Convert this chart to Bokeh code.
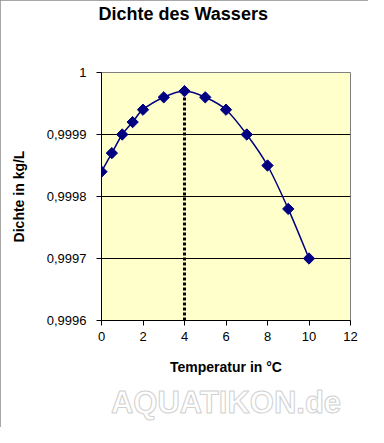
import numpy as np
from bokeh.plotting import figure
from bokeh.models import Range1d, FixedTicker, Title
from bokeh.embed import file_html
from bokeh.resources import INLINE

# Data
temperature = [0, 0.5, 1, 1.5, 2, 3, 4, 5, 6, 7, 8, 9, 10]
density = [0.99984, 0.99987, 0.99990, 0.99992, 0.99994, 0.99996, 0.99997,
           0.99996, 0.99994, 0.99990, 0.99985, 0.99978, 0.99970]
x_ticks = [0, 2, 4, 6, 8, 10, 12]
y_ticks = [0.9996, 0.9997, 0.9998, 0.9999, 1.0]
y_tick_labels = ["0,9996", "0,9997", "0,9998", "0,9999", "1"]
title_text = "Dichte des Wassers"
x_label = "Temperatur in °C"
y_label = "Dichte in kg/L"
watermark = "AQUATIKON.de"

FONT = "Liberation Sans"

p = figure(width=368, height=427, output_backend="svg", toolbar_location=None,
           x_range=Range1d(0, 12), y_range=Range1d(y_ticks[0], y_ticks[-1]),
           min_border_left=101, min_border_right=18, min_border_top=72,
           min_border_bottom=107)
p.background_fill_color = "#FFFFCC"
p.border_fill_color = "white"
p.outline_line_color = "#808080"
p.outline_line_width = 1
p.styles = {"outline": "1px solid #8a8a8a", "outline-offset": "-1px"}

# spacer between frame and title
p.add_layout(Title(text=" ", standoff=41, text_font_size="1px"), "above")

# title
p.title.text = title_text
p.title.align = "left"
p.title.vertical_align = "top"
p.title.offset = -3
p.title.standoff = 6
p.title.text_font = FONT
p.title.text_font_size = "18px"
p.title.text_font_style = "bold"
p.title.text_color = "black"

# axes
for ax in (p.xaxis[0], p.yaxis[0]):
    ax.axis_line_color = "black"
    ax.major_tick_line_color = "black"
    ax.major_tick_in = 0
    ax.major_tick_out = 5
    ax.minor_tick_line_color = None
    ax.major_label_text_font = FONT
    ax.major_label_text_font_size = "13px"
    ax.major_label_text_color = "black"
    ax.axis_label_text_font = FONT
    ax.axis_label_text_font_size = "14px"
    ax.axis_label_text_font_style = "bold"
    ax.axis_label_text_color = "black"

p.xaxis.ticker = FixedTicker(ticks=x_ticks)
p.yaxis.ticker = FixedTicker(ticks=y_ticks)
p.yaxis.major_label_overrides = {t: l for t, l in zip(y_ticks, y_tick_labels)}
p.xaxis.axis_label = x_label
p.yaxis.axis_label = y_label
p.xaxis.major_label_standoff = 6
p.yaxis.major_label_standoff = 10
p.xaxis.axis_label_standoff = 15
p.yaxis.axis_label_standoff = 17

p.xgrid.grid_line_color = None
p.ygrid.grid_line_color = "black"
p.ygrid.grid_line_width = 1

# dotted line at the density maximum
imax = int(np.argmax(density))
p.segment(x0=[temperature[imax]], y0=[y_ticks[0]], x1=[temperature[imax]],
          y1=[density[imax]], line_color="black", line_width=3, line_dash="3 2")

# smoothed line (Bezier segments through the data points)
xs = np.array(temperature, dtype=float)
ys = np.array(density, dtype=float)
n = len(xs)
x0, y0, x1, y1, cx0, cy0, cx1, cy1 = [], [], [], [], [], [], [], []
for i in range(n - 1):
    pm = max(i - 1, 0)
    pp = min(i + 2, n - 1)
    x0.append(xs[i]); y0.append(ys[i])
    x1.append(xs[i + 1]); y1.append(ys[i + 1])
    cx0.append(xs[i] + (xs[i + 1] - xs[pm]) / 6)
    cy0.append(ys[i] + (ys[i + 1] - ys[pm]) / 6)
    cx1.append(xs[i + 1] - (xs[pp] - xs[i]) / 6)
    cy1.append(ys[i + 1] - (ys[pp] - ys[i]) / 6)
p.bezier(x0=x0, y0=y0, x1=x1, y1=y1, cx0=cx0, cy0=cy0, cx1=cx1, cy1=cy1,
         line_color="#000080", line_width=1.5)

p.scatter(temperature, density, marker="square", angle=np.pi / 4, size=8,
          fill_color="#000080", line_color="#000080")

# watermark
p.add_layout(Title(text=watermark, align="center", standoff=10,
                   text_font=FONT, text_font_size="31px", text_font_style="bold",
                   text_color="white", text_outline_color="#d0d0d0"), "below")

open("out.html", "w").write(file_html(p, INLINE))
